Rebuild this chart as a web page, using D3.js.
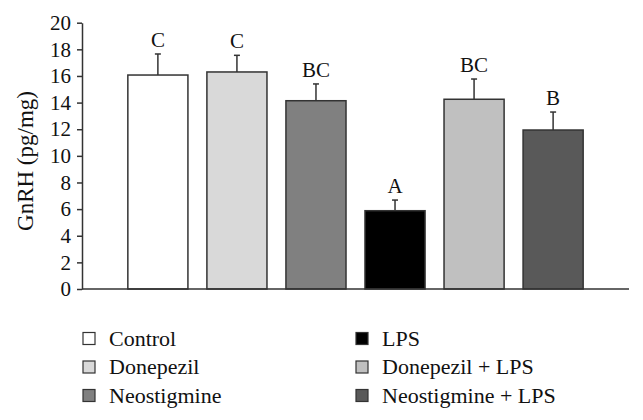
<!DOCTYPE html>
<html><head><meta charset="utf-8">
<script src="https://cdn.jsdelivr.net/npm/d3@7"></script>
<style>html,body{margin:0;padding:0;background:#fff;}</style>
</head><body>
<svg id="c" width="643" height="420"></svg>
<script>
const categories = ["Control","Donepezil","Neostigmine","LPS","Donepezil + LPS","Neostigmine + LPS"];
const means = [16.07, 16.3, 14.14, 5.88, 14.25, 11.94];
const errors = [1.58, 1.25, 1.26, 0.8, 1.52, 1.35];
const letters = ["C","C","BC","A","BC","B"];
const colors = ["#ffffff","#d9d9d9","#808080","#000000","#c0c0c0","#595959"];
const yTicks = [0,2,4,6,8,10,12,14,16,18,20];
const yLabel = "GnRH (pg/mg)";

const svg = d3.select("#c");
const font = "Liberation Serif";
const fs = 21;
const x = d3.scaleBand().domain(categories).range([82, 629]).paddingInner(0.24).paddingOuter(0.58);
const y = d3.scaleLinear().domain([0,20]).range([289, 22.7]);
const stroke = "#333";

svg.selectAll("rect.bar").data(categories).enter().append("rect")
  .attr("x", d => x(d)).attr("width", x.bandwidth())
  .attr("y", (d,i) => y(means[i])).attr("height", (d,i) => y(0) - y(means[i]))
  .attr("fill", (d,i) => colors[i]).attr("stroke", stroke).attr("stroke-width", 1.5);

categories.forEach((d,i) => {
  const cx = x(d) + x.bandwidth()/2;
  svg.append("line").attr("x1", cx).attr("x2", cx).attr("y1", y(means[i])).attr("y2", y(means[i]+errors[i]))
    .attr("stroke", stroke).attr("stroke-width", 1.5);
  svg.append("line").attr("x1", cx-3).attr("x2", cx+3).attr("y1", y(means[i]+errors[i])).attr("y2", y(means[i]+errors[i]))
    .attr("stroke", stroke).attr("stroke-width", 1.5);
  svg.append("text").attr("x", cx).attr("y", y(means[i]+errors[i]) - 7)
    .attr("text-anchor","middle").attr("font-family", font).attr("font-size", fs).attr("fill","#111")
    .text(letters[i]);
});

const ya = svg.append("g").attr("transform","translate(82,0)")
  .call(d3.axisLeft(y).tickValues(yTicks).tickSize(5).tickSizeOuter(0));
ya.attr("font-family", font).attr("font-size", fs);
ya.select(".domain").attr("stroke", stroke).attr("stroke-width",1.5);
ya.selectAll(".tick line").attr("stroke", stroke).attr("stroke-width",1.5);
ya.selectAll(".tick text").attr("font-size", fs).attr("fill","#111").attr("x",-11);

svg.append("line").attr("x1", 82).attr("x2", 629).attr("y1", y(0)).attr("y2", y(0))
  .attr("stroke", stroke).attr("stroke-width", 1.5);

svg.append("text").attr("transform","translate(33,161) rotate(-90)")
  .attr("text-anchor","middle").attr("font-family", font).attr("font-size", 23).attr("fill","#111")
  .text(yLabel);

categories.forEach((d,i) => {
  const col = Math.floor(i/3), row = i % 3;
  const lx = col === 0 ? 83 : 356;
  const ly = 338.5 + row*28.5;
  svg.append("rect").attr("x", lx).attr("y", ly-6).attr("width", 12).attr("height", 12)
    .attr("fill", colors[i]).attr("stroke", stroke).attr("stroke-width", 1.2);
  svg.append("text").attr("x", lx + 26).attr("y", ly + 7)
    .attr("font-family", font).attr("font-size", 22).attr("fill","#111").text(d);
});
</script>
</body></html>
